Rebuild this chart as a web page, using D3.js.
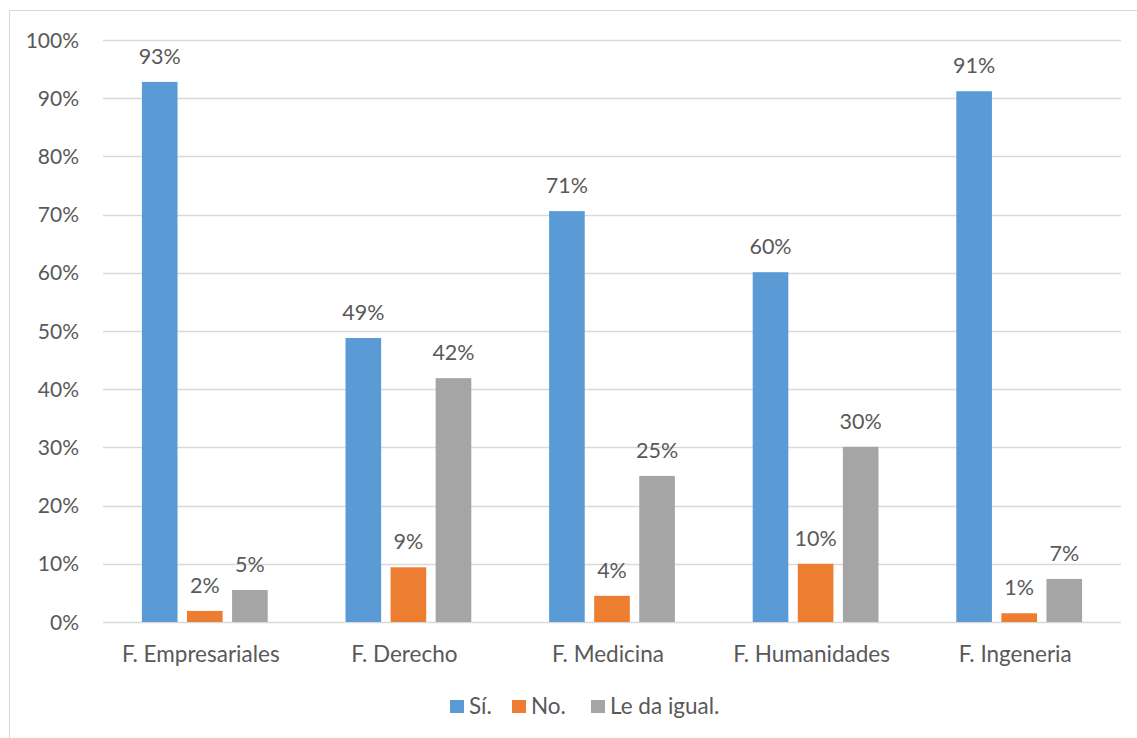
<!DOCTYPE html>
<html><head><meta charset="utf-8">
<script src="https://cdn.jsdelivr.net/npm/d3@7"></script>
<style>body{margin:0;background:#fff;} text{font-family:Lato,"Open Sans",sans-serif;fill:#595959;}</style>
</head><body><svg id="c" width="1137" height="738"></svg>
<script>
const categories = ["F. Empresariales","F. Derecho","F. Medicina","F. Humanidades","F. Ingeneria"];
const seriesNames = ["Sí.","No.","Le da igual."];
const si = [92.8, 48.8, 70.6, 60.1, 91.2];
const no = [1.9, 9.4, 4.5, 10.0, 1.5];
const igual = [5.5, 41.9, 25.1, 30.1, 7.4];
const labelsSi = ["93%","49%","71%","60%","91%"];
const labelsNo = ["2%","9%","4%","10%","1%"];
const labelsIgual = ["5%","42%","25%","30%","7%"];
const yTicks = [0,10,20,30,40,50,60,70,80,90,100];
const colors = ["#5B9BD5","#ED7D31","#A5A5A5"];

const svg = d3.select("#c");
svg.append("rect").attr("x",9.5).attr("y",10.5).attr("width",1140).attr("height",740)
  .attr("fill","none").attr("stroke","#d9d9d9");
const L=103,R=1121,T=40,B=622;
const x = d3.scaleBand().domain(categories).range([L,R]).padding(0);
const y = d3.scaleLinear().domain([0,100]).range([B,T]);
const bw = x.bandwidth();
const barW = bw*0.175, step = bw*0.2214;

svg.append("g").selectAll("line").data(yTicks).join("line")
  .attr("x1",L).attr("x2",R).attr("y1",d=>Math.round(y(d))+0.5).attr("y2",d=>Math.round(y(d))+0.5)
  .attr("stroke","#d9d9d9").attr("stroke-width",1.5);
svg.append("g").selectAll("text").data(yTicks).join("text")
  .attr("x",79).attr("y",d=>y(d)+7.5).attr("text-anchor","end").attr("font-size",21)
  .text(d=>d+"%");

const data = [si,no,igual];
const labs = [labelsSi,labelsNo,labelsIgual];
data.forEach((vals,s)=>{
  const g = svg.append("g");
  vals.forEach((v,i)=>{
    const cx = x(categories[i]) + bw/2 + (s-1)*step;
    g.append("rect").attr("x",cx-barW/2).attr("y",y(v)).attr("width",barW).attr("height",y(0)-y(v))
      .attr("fill",colors[s]);
    g.append("text").attr("x",cx).attr("y",y(v)-18).attr("text-anchor","middle").attr("font-size",21.5)
      .text(labs[s][i]);
  });
});
svg.append("g").selectAll("text").data(categories).join("text")
  .attr("x",d=>x(d)+bw/2-4).attr("y",662).attr("text-anchor","middle").attr("font-size",22.5).text(d=>d);
const legX = [450,512,591];
seriesNames.forEach((n,i)=>{
  svg.append("rect").attr("x",legX[i]).attr("y",700).attr("width",14).attr("height",13).attr("fill",colors[i]);
  svg.append("text").attr("x",legX[i]+19).attr("y",714).attr("font-size",22.5).text(n);
});
</script></body></html>
